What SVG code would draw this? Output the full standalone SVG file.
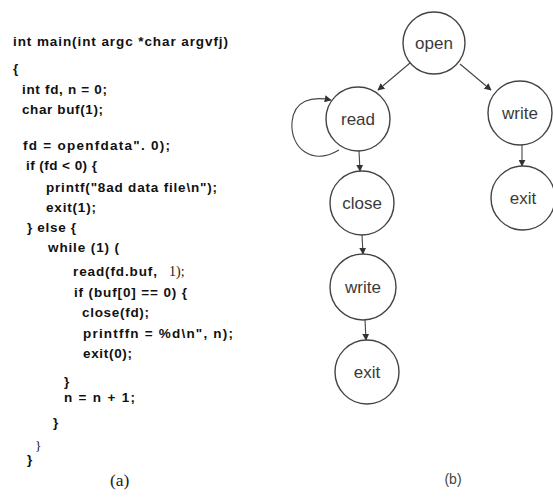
<svg xmlns="http://www.w3.org/2000/svg" width="553" height="502" viewBox="0 0 553 502">
<style>
.code{font-family:"Liberation Sans",Arial,sans-serif;font-weight:bold;font-size:13.5px;fill:#111}
.serif{font-family:"Liberation Serif","Times New Roman",serif;font-weight:normal;fill:#222}
.node circle{fill:#fff;stroke:#444;stroke-width:1.4}
.node text{font-family:"Liberation Sans",Arial,sans-serif;font-size:17px;fill:#3a3a3a;text-anchor:middle}
.edge{fill:none;stroke:#444;stroke-width:1.1}
</style>
<defs>
<marker id="ah" viewBox="0 0 10 10" refX="9" refY="5" markerWidth="7" markerHeight="7" orient="auto" markerUnits="userSpaceOnUse">
<path d="M0,0 L10,5 L0,10 z" fill="#333"/>
</marker>
</defs>
<rect width="553" height="502" fill="#fff"/>
<g id="code">
<text class="code" x="13" y="46" textLength="215" lengthAdjust="spacing">int main(int argc *char argvfj)</text>
<text class="code" x="13" y="73">{</text>
<text class="code" x="22" y="94" textLength="85" lengthAdjust="spacing">int fd, n = 0;</text>
<text class="code" x="22" y="114" textLength="81" lengthAdjust="spacing">char buf(1);</text>
<text class="code" x="23" y="150" textLength="147" lengthAdjust="spacing">fd = openfdata". 0);</text>
<text class="code" x="26" y="170" textLength="71" lengthAdjust="spacing">if (fd &lt; 0) {</text>
<text class="code" x="46" y="191.5" textLength="171" lengthAdjust="spacing">printf("8ad data file\n");</text>
<text class="code" x="46" y="211.5" textLength="50" lengthAdjust="spacing">exit(1);</text>
<text class="code" x="27" y="231.5" textLength="49" lengthAdjust="spacing">} else {</text>
<text class="code" x="48" y="251.5" textLength="71" lengthAdjust="spacing">while (1) (</text>
<text class="code" x="73" y="276"><tspan textLength="84" lengthAdjust="spacing">read(fd.buf,</tspan><tspan class="serif" x="169" font-size="14">1);</tspan></text>
<text class="code" x="74" y="296.5" textLength="113" lengthAdjust="spacing">if (buf[0] == 0) {</text>
<text class="code" x="82" y="316.5" textLength="67" lengthAdjust="spacing">close(fd);</text>
<text class="code" x="83" y="338" textLength="150" lengthAdjust="spacing">printffn = %d\n", n);</text>
<text class="code" x="83" y="358" textLength="49" lengthAdjust="spacing">exit(0);</text>
<text class="code" x="64" y="386">}</text>
<text class="code" x="64" y="402" textLength="71" lengthAdjust="spacing">n = n +  1;</text>
<text class="code" x="53" y="427">}</text>
<text class="serif" x="35" y="450" font-size="13.5">}</text>
<text class="code" x="27" y="464">}</text>
<text class="serif" x="110" y="486" font-size="17.5">(a)</text>
</g>
<g id="connectors">
<line class="edge" x1="410" y1="63" x2="378" y2="90" marker-end="url(#ah)"/>
<line class="edge" x1="460" y1="64" x2="491" y2="90" marker-end="url(#ah)"/>
<line class="edge" x1="359" y1="151" x2="360" y2="171" marker-end="url(#ah)"/>
<line class="edge" x1="522" y1="145" x2="522" y2="166" marker-end="url(#ah)"/>
<line class="edge" x1="362" y1="235" x2="363" y2="254" marker-end="url(#ah)"/>
<line class="edge" x1="365" y1="320" x2="366" y2="340" marker-end="url(#ah)"/>
<path class="edge" d="M339,150 C312,166 290,148 292,122 C294,100 312,96 331,100" marker-end="url(#ah)"/>
</g>
<g id="node-open" class="node"><circle cx="434" cy="43" r="31"/><text x="434" y="49">open</text></g>
<g id="node-read" class="node"><circle cx="358" cy="119" r="32"/><text x="358" y="125">read</text></g>
<g id="node-write1" class="node"><circle cx="520" cy="113" r="32"/><text x="520" y="119">write</text></g>
<g id="node-exit1" class="node"><circle cx="523" cy="198" r="32"/><text x="523" y="204">exit</text></g>
<g id="node-close" class="node"><circle cx="362" cy="203" r="32"/><text x="362" y="209">close</text></g>
<g id="node-write2" class="node"><circle cx="363" cy="287" r="33"/><text x="363" y="293">write</text></g>
<g id="node-exit2" class="node"><circle cx="367" cy="372" r="32"/><text x="367" y="378">exit</text></g>
<text x="453" y="484" font-family="'Liberation Sans',Arial,sans-serif" font-size="14" fill="#444" text-anchor="middle">(b)</text>
</svg>
